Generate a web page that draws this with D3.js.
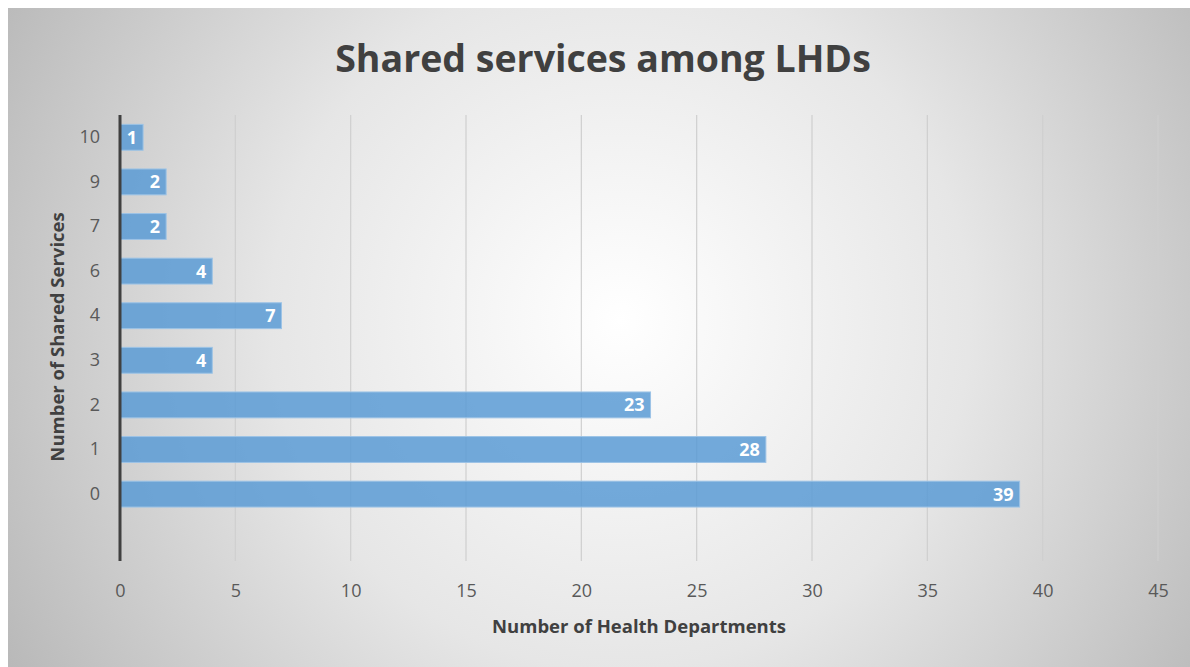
<!DOCTYPE html>
<html>
<head>
<meta charset="utf-8">
<script src="https://cdn.jsdelivr.net/npm/d3@7"></script>
<style>
  html, body { margin: 0; padding: 0; background: #fff; }
  text { font-family: "Open Sans", "Noto Sans", sans-serif; }
</style>
</head>
<body>
<svg id="chart" width="1190" height="667"></svg>
<script>
// categories top to bottom; the last blank slot is an empty category
const categories = ["10", "9", "7", "6", "4", "3", "2", "1", "0", ""];
const counts     = [1, 2, 2, 4, 7, 4, 23, 28, 39, null];
const xTicks     = [0, 5, 10, 15, 20, 25, 30, 35, 40, 45];

const data = categories.map((c, i) => ({ cat: c, value: counts[i] }));

const svg = d3.select("#chart");
const width = +svg.attr("width");
const height = +svg.attr("height");
const margin = { top: 115, right: 32, bottom: 106, left: 120 };
const chartWidth  = width - margin.left - margin.right;
const chartHeight = height - margin.top - margin.bottom;

// background gradient
const defs = svg.append("defs");
const grad = defs.append("radialGradient")
  .attr("id", "bg")
  .attr("gradientUnits", "userSpaceOnUse")
  .attr("cx", 620).attr("cy", 320).attr("r", 700);
grad.append("stop").attr("offset", "0%").attr("stop-color", "#ffffff");
grad.append("stop").attr("offset", "50%").attr("stop-color", "#e6e6e6");
grad.append("stop").attr("offset", "100%").attr("stop-color", "#b9b9b9");

svg.append("rect")
  .attr("x", 8).attr("y", 8)
  .attr("width", width - 8).attr("height", height - 8)
  .attr("fill", "url(#bg)");

const g = svg.append("g")
  .attr("transform", `translate(${margin.left},${margin.top})`);

const x = d3.scaleLinear().domain([0, 45]).range([0, chartWidth]);
const y = d3.scaleBand().domain(categories).range([0, chartHeight]).paddingInner(0.42).paddingOuter(0.21);

// gridlines
g.append("g")
  .selectAll("line")
  .data(xTicks.slice(1))
  .join("line")
    .attr("x1", d => x(d)).attr("x2", d => x(d))
    .attr("y1", 0).attr("y2", chartHeight)
    .attr("stroke", "#cfcfcf")
    .attr("stroke-width", 1.2);

// bars
g.selectAll(".bar")
  .data(data.filter(d => d.value != null))
  .join("rect")
    .attr("class", "bar")
    .attr("x", x(0))
    .attr("y", d => y(d.cat))
    .attr("width", d => x(d.value) - x(0))
    .attr("height", y.bandwidth())
    .attr("fill", "#5b9bd5")
    .attr("fill-opacity", 0.85)
    .attr("stroke", "#9cc3e6")
    .attr("stroke-width", 1);

// value labels
g.selectAll(".label")
  .data(data.filter(d => d.value != null))
  .join("text")
    .attr("class", "label")
    .attr("x", d => x(d.value) - 6)
    .attr("y", d => y(d.cat) + y.bandwidth() / 2)
    .attr("dy", "0.36em")
    .attr("text-anchor", "end")
    .attr("fill", "#fff")
    .style("font-size", "18px")
    .style("font-weight", "bold")
    .text(d => d.value);

// x axis labels
const xAxisG = g.append("g")
  .attr("transform", `translate(0,${chartHeight})`)
  .call(d3.axisBottom(x).tickValues(xTicks).tickSize(0).tickPadding(23));
xAxisG.select(".domain").remove();
xAxisG.selectAll("text")
  .style("font-size", "18px")
  .style("font-family", "\"Open Sans\", sans-serif")
  .attr("fill", "#595959");

// y axis
const yAxisG = g.append("g")
  .call(d3.axisLeft(y).tickSize(0).tickPadding(20));
yAxisG.select(".domain").remove();
yAxisG.selectAll("text")
  .style("font-size", "18px")
  .style("font-family", "\"Open Sans\", sans-serif")
  .attr("fill", "#595959");

g.append("line")
  .attr("x1", 0).attr("x2", 0)
  .attr("y1", 0).attr("y2", chartHeight)
  .attr("stroke", "#404040")
  .attr("stroke-width", 3);

// title
svg.append("text")
  .attr("x", 603)
  .attr("y", 72)
  .attr("text-anchor", "middle")
  .attr("fill", "#404040")
  .style("font-size", "37.5px")
  .style("font-weight", "bold")
  .text("Shared services among LHDs");

// x-axis title
svg.append("text")
  .attr("x", 639)
  .attr("y", 633)
  .attr("text-anchor", "middle")
  .attr("fill", "#404040")
  .style("font-size", "18.5px")
  .style("font-weight", "bold")
  .text("Number of Health Departments");

// y-axis title
svg.append("text")
  .attr("transform", "rotate(-90)")
  .attr("x", -337)
  .attr("y", 64)
  .attr("text-anchor", "middle")
  .attr("fill", "#404040")
  .style("font-size", "18.5px")
  .style("font-weight", "bold")
  .text("Number of Shared Services");
</script>
</body>
</html>
